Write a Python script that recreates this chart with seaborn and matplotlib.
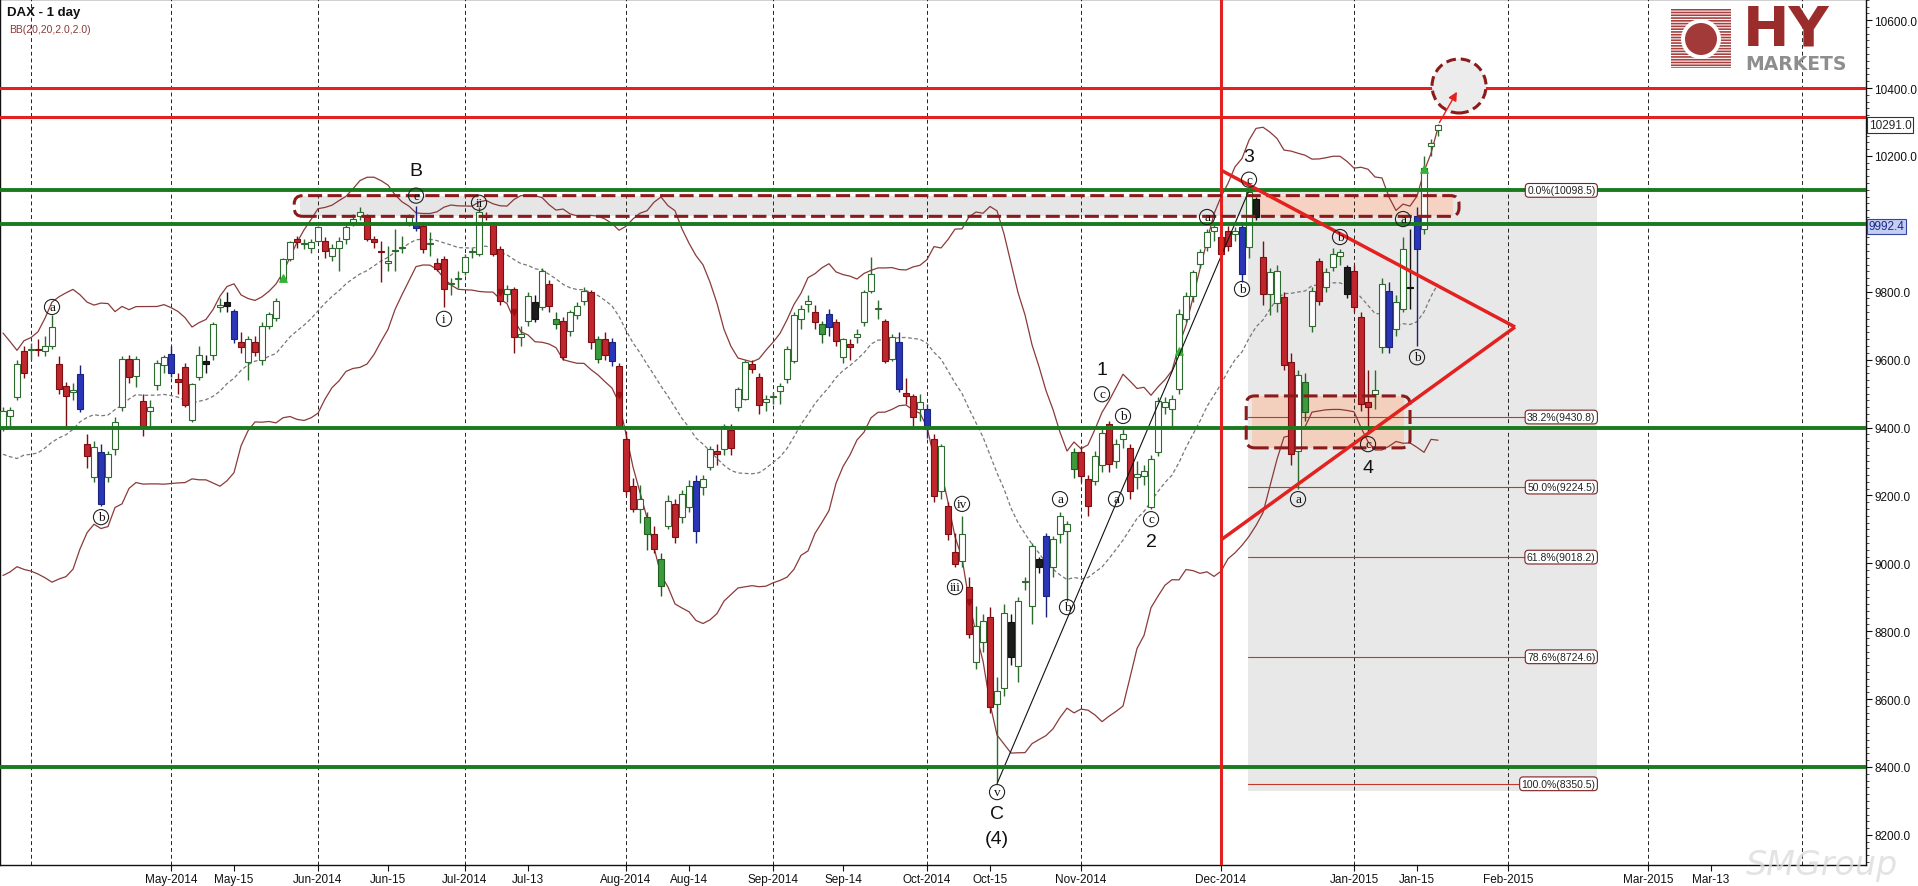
import numpy as np
import pandas as pd
import matplotlib
matplotlib.use("Agg")
import matplotlib.pyplot as plt
import matplotlib.transforms as mtransforms
from matplotlib.patches import Rectangle, FancyBboxPatch, Ellipse
from matplotlib.ticker import MultipleLocator, FuncFormatter
import seaborn as sns

sns.set_style("white")
plt.rcParams['font.family'] = ['Liberation Sans', 'DejaVu Sans']
plt.rcParams['hatch.linewidth'] = 1.2

# ---------------------------------------------------------------- data
first_day = "2014-03-26"
last_day = "2015-01-20"
exchange_holidays = ["2014-04-18", "2014-04-21", "2014-05-01", "2014-10-03",
                     "2014-12-24", "2014-12-25", "2014-12-26", "2014-12-31", "2015-01-01"]

# closes before the first visible bar (feed the 20-day Bollinger band)
prior_closes = [9600, 9692, 9358, 9589, 9542, 9350, 9350, 9265, 9307, 9188,
                9017, 9056, 9180, 9242, 9277, 9093, 9342, 9189, 9338]

opens = [
    9400, 9435, 9490, 9625,
    9628, 9630, 9625, 9641, 9587, 9523, 9505, 9558, 9351, 9254, 9328, 9254, 9337, 9460, 9602, 9552, 9479, 9450, 9525, 9584,
    9617, 9543, 9578, 9421, 9548, 9597, 9613, 9755, 9769, 9744, 9651, 9592, 9651, 9600, 9700, 9724, 9837, 9896, 9955, 9940, 9930,
    9950, 9950, 9906, 9930, 9955, 10004, 10024, 10019, 9955, 9921, 9886, 9921, 9930, 10004, 9999, 9994, 9940, 9886, 9896, 9823, 9837,
    9857, 9916, 9911, 10024, 9999, 9926, 9793, 9808, 9668, 9715, 9769, 9754, 9823, 9705, 9715, 9685, 9730, 9774, 9798, 9602, 9660, 9651, 9582,
    9366, 9227, 9160, 9086, 9086, 8934, 9111, 9175, 9135, 9165, 9243, 9224, 9283, 9331, 9337, 9394, 9460, 9484, 9588, 9548, 9474,
    9489, 9508, 9543, 9597, 9720, 9764, 9739, 9676, 9734, 9710, 9607, 9646, 9666, 9710, 9803, 9749, 9715, 9602, 9651, 9503, 9494, 9454,
    9454, 9366, 9214, 9170, 9032, 9008, 8929, 8708, 8767, 8841, 8585, 8634, 8826, 8698, 8944, 8875, 9012, 9081, 8988, 9086, 9096, 9278,
    9327, 9248, 9243, 9290, 9410, 9300, 9366, 9341, 9253, 9258, 9165, 9327, 9459, 9454, 9513, 9720, 9788, 9882, 9931, 9980,
    9961, 9980, 9970, 9990, 9931, 10073, 9901, 9793, 9768, 9784, 9593, 9330, 9446, 9700, 9891, 9813, 9872, 9906, 9872,
    9862, 9725, 9475, 9499, 9637, 9803, 9690, 9749, 9815, 9926, 9985, 10228, 10277]

highs = [
    9460, 9460, 9600, 9640,
    9650, 9660, 9670, 9730, 9610, 9535, 9530, 9585, 9380, 9360, 9351, 9330, 9430, 9610, 9615, 9610, 9500, 9480, 9600, 9615,
    9640, 9560, 9590, 9530, 9640, 9615, 9710, 9780, 9800, 9750, 9680, 9670, 9670, 9710, 9740, 9780, 9900, 9950, 9965, 9955, 9955,
    9995, 9960, 9940, 9960, 10000, 10030, 10050, 10030, 9965, 9950, 9935, 9985, 9965, 10030, 10053, 10000, 9975, 9900, 9905, 9840, 9860,
    9910, 9930, 10050, 10035, 10005, 9935, 9820, 9815, 9700, 9800, 9790, 9870, 9835, 9740, 9725, 9745, 9770, 9815, 9805, 9670, 9680, 9665, 9590,
    9390, 9250, 9230, 9150, 9110, 9030, 9200, 9190, 9215, 9245, 9260, 9260, 9345, 9350, 9410, 9410, 9520, 9600, 9600, 9560, 9495,
    9505, 9530, 9640, 9740, 9760, 9790, 9760, 9715, 9750, 9720, 9665, 9660, 9690, 9805, 9901, 9775, 9720, 9675, 9680, 9545, 9500, 9500,
    9470, 9380, 9350, 9180, 9090, 9140, 8960, 8875, 8850, 8870, 8664, 8880, 8850, 8900, 8960, 9060, 9020, 9090, 9080, 9150, 9125, 9340,
    9345, 9260, 9330, 9400, 9420, 9365, 9395, 9350, 9300, 9290, 9320, 9490, 9490, 9495, 9750, 9800, 9865, 9925, 9985, 10000,
    9990, 9995, 9990, 10005, 10098, 10080, 9950, 9870, 9880, 9800, 9620, 9570, 9560, 9815, 9900, 9870, 9930, 9925, 9880,
    9880, 9740, 9570, 9570, 9840, 9830, 9790, 9960, 9985, 10050, 10200, 10250, 10295]

lows = [
    9390, 9400, 9480, 9545,
    9600, 9610, 9610, 9630, 9500, 9400, 9480, 9445, 9280, 9240, 9170, 9240, 9320, 9450, 9530, 9520, 9375, 9400, 9510, 9560,
    9550, 9500, 9460, 9415, 9540, 9560, 9600, 9740, 9740, 9650, 9620, 9540, 9610, 9585, 9690, 9715, 9830, 9890, 9930, 9925, 9915,
    9945, 9900, 9890, 9860, 9940, 9995, 10010, 9950, 9930, 9830, 9860, 9860, 9915, 9995, 9980, 9915, 9905, 9860, 9754, 9790, 9810,
    9850, 9900, 9905, 10010, 9905, 9760, 9770, 9620, 9640, 9700, 9710, 9745, 9740, 9690, 9600, 9670, 9720, 9760, 9630, 9590, 9600, 9580, 9395,
    9200, 9150, 9120, 9040, 9030, 8903, 9100, 9060, 9120, 9150, 9060, 9200, 9275, 9290, 9320, 9320, 9450, 9480, 9560, 9440, 9450,
    9470, 9470, 9530, 9590, 9690, 9740, 9690, 9650, 9670, 9640, 9590, 9600, 9650, 9700, 9795, 9720, 9590, 9595, 9505, 9470, 9400, 9420,
    9370, 9180, 9190, 9070, 8990, 8990, 8780, 8690, 8740, 8560, 8355, 8610, 8700, 8649, 8920, 8821, 8970, 8841, 8960, 9060, 8890, 9250,
    9240, 9140, 9230, 9270, 9270, 9280, 9340, 9190, 9220, 9230, 9160, 9315, 9440, 9396, 9500, 9710, 9770, 9870, 9920, 9950,
    9900, 9920, 9950, 9828, 9900, 10010, 9760, 9730, 9740, 9570, 9290, 9219, 9420, 9680, 9760, 9800, 9860, 9880, 9780,
    9740, 9450, 9380, 9455, 9620, 9620, 9670, 9740, 9750, 9640, 9970, 10200, 10260]

closes = [
    9450, 9452, 9588, 9562,
    9631, 9628, 9640, 9695, 9513, 9493, 9509, 9455, 9316, 9343, 9175, 9322, 9416, 9602, 9548, 9602, 9405, 9460, 9589, 9608,
    9562, 9533, 9467, 9529, 9613, 9587, 9705, 9760, 9759, 9661, 9636, 9661, 9621, 9700, 9734, 9773, 9896, 9945, 9945, 9940, 9945,
    9990, 9921, 9930, 9950, 9990, 10014, 10034, 9955, 9945, 9916, 9886, 9921, 9930, 10019, 9989, 9926, 9940, 9867, 9808, 9823, 9837,
    9901, 9916, 10034, 10020, 9911, 9774, 9808, 9666, 9675, 9788, 9720, 9862, 9759, 9720, 9607, 9739, 9759, 9803, 9651, 9661, 9615, 9597, 9405,
    9213, 9159, 9190, 9135, 9042, 9012, 9184, 9076, 9204, 9229, 9096, 9248, 9336, 9322, 9404, 9340, 9513, 9593, 9573, 9465, 9484,
    9489, 9523, 9631, 9730, 9749, 9774, 9710, 9705, 9695, 9656, 9661, 9636, 9676, 9798, 9852, 9749, 9597, 9666, 9513, 9494, 9430, 9474,
    9395, 9199, 9346, 9086, 8998, 9086, 8792, 8816, 8831, 8576, 8625, 8855, 8723, 8890, 8944, 9052, 8988, 8905, 9071, 9140, 9116, 9327,
    9258, 9170, 9317, 9385, 9292, 9351, 9380, 9214, 9263, 9273, 9307, 9479, 9474, 9484, 9734, 9788, 9857, 9916, 9975, 9990,
    9911, 9935, 9980, 9852, 10093, 10019, 9793, 9857, 9862, 9583, 9323, 9554, 9534, 9803, 9774, 9857, 9911, 9916, 9793,
    9754, 9470, 9460, 9509, 9823, 9637, 9769, 9926, 9810, 10024, 10164, 10238, 10291]

blue_days = ["2014-04-10", "2014-04-15", "2014-05-02", "2014-05-15", "2014-06-20", "2014-07-30",
             "2014-08-15", "2014-09-11", "2014-09-25", "2014-10-01", "2014-10-27", "2014-12-04",
             "2015-01-09", "2015-01-15"]
green_days = ["2014-07-18", "2014-07-28", "2014-08-06", "2014-08-08", "2014-09-10", "2014-10-31", "2014-12-17"]
black_days = ["2014-05-09", "2014-05-14", "2014-07-15", "2014-10-20", "2014-10-24", "2014-12-08",
              "2014-12-30", "2015-01-14"]

up_signal_days = ["2014-05-26", "2014-11-21", "2015-01-16"]
up_signal_prices = [9840, 9625, 10160]
down_signal_days = ["2014-07-08", "2014-07-10", "2014-07-31", "2014-10-10"]
down_signal_prices = [9800, 9740, 9495, 8885]

support_levels = [10100, 10000, 9400, 8400]      # green
resistance_levels = [10400, 10315]               # red
vertical_marker_day = "2014-12-01"

fib_names = ["0.0%", "38.2%", "50.0%", "61.8%", "78.6%", "100.0%"]
fib_levels = [10098.5, 9430.8, 9224.5, 9018.2, 8724.6, 8350.5]
fib_anchor_days = ["2014-10-16", "2014-12-05"]
fib_box_end_day = "2015-02-18"

triangle_start_day = "2014-12-01"
triangle_apex_day = "2015-02-03"
triangle_upper_start, triangle_lower_start, triangle_apex_price = 10158, 9069, 9696

upper_zone_days = ["2014-05-27", "2015-01-22"]
upper_zone_prices = [10022, 10083]
lower_zone_days = ["2014-12-04", "2015-01-14"]
lower_zone_prices = [9340, 9493]
target_day, target_price = "2015-01-22", 10406

circled_labels = [("a", "2014-04-04", 9755), ("b", "2014-04-15", 9136), ("e", "2014-06-20", 10083),
                  ("i", "2014-06-26", 9720), ("ii", "2014-07-03", 10062), ("iii", "2014-10-08", 8930),
                  ("iv", "2014-10-09", 9175), ("v", "2014-10-16", 8326), ("a", "2014-10-29", 9189),
                  ("b", "2014-10-30", 8871), ("c", "2014-11-06", 9498), ("a", "2014-11-10", 9189),
                  ("b", "2014-11-11", 9434), ("c", "2014-11-17", 9130), ("a", "2014-11-27", 10020),
                  ("b", "2014-12-04", 9808), ("c", "2014-12-05", 10130), ("a", "2014-12-16", 9189),
                  ("b", "2014-12-29", 9961), ("c", "2015-01-06", 9351), ("a", "2015-01-13", 10014),
                  ("b", "2015-01-15", 9607)]
wave_labels = [("B", "2014-06-20", 10156), ("1", "2014-11-06", 9572), ("2", "2014-11-17", 9063),
               ("3", "2014-12-05", 10197), ("4", "2015-01-06", 9283), ("C", "2014-10-16", 8262),
               ("(4)", "2014-10-16", 8188)]

month_grid_days = ["2014-04-01", "2014-05-01", "2014-06-01", "2014-07-01", "2014-08-01", "2014-09-01",
                   "2014-10-01", "2014-11-01", "2014-12-01", "2015-01-01", "2015-02-01", "2015-03-01",
                   "2015-04-01"]
tick_days = ["2014-05-01", "2014-05-15", "2014-06-01", "2014-06-15", "2014-07-01", "2014-07-13",
             "2014-08-01", "2014-08-14", "2014-09-01", "2014-09-14", "2014-10-01", "2014-10-15",
             "2014-11-01", "2014-12-01", "2015-01-01", "2015-01-15", "2015-02-01", "2015-03-01", "2015-03-13"]
tick_labels = ["May-2014", "May-15", "Jun-2014", "Jun-15", "Jul-2014", "Jul-13", "Aug-2014", "Aug-14",
               "Sep-2014", "Sep-14", "Oct-2014", "Oct-15", "Nov-2014", "Dec-2014", "Jan-2015", "Jan-15",
               "Feb-2015", "Mar-2015", "Mar-13"]
last_price = 10291.0
marked_price = 9992.4

# ---------------------------------------------------------------- calendar
dates = pd.bdate_range(first_day, last_day)
dates = dates[~dates.isin(pd.to_datetime(exchange_holidays))]
n = len(dates)


def pos(day):
    d = pd.Timestamp(day)
    if d <= dates[-1]:
        return int(dates.searchsorted(d))
    return n + int(np.busday_count(dates[-1].date(), d.date()))


o = np.array(opens, float)
h = np.array(highs, float)
l = np.array(lows, float)
c = np.array(closes, float)
x = np.arange(n)

allc = pd.Series(prior_closes + closes, dtype=float)
mid = allc.rolling(20).mean().to_numpy()[len(prior_closes):]
sd = allc.rolling(20).std(ddof=0).to_numpy()[len(prior_closes):]
upper, lower = mid + 2 * sd, mid - 2 * sd

# ---------------------------------------------------------------- figure
W, H = 1918, 887
fig = plt.figure(figsize=(W / 100, H / 100), dpi=100)
ax = fig.add_axes([0, 21 / H, 1866 / W, 866 / H])
ax.set_xlim(-0.43, 266.14)
ax.set_ylim(8111.3, 10662.2)

RED = "#e3211e"
GREEN = "#1b7a1f"
DKRED = "#8b1a1a"

# fib shaded box
x_f0 = pos(fib_anchor_days[1]) - 0.1
x_f1 = pos(fib_box_end_day) + 0.7
ax.add_patch(Rectangle((x_f0, 8330), x_f1 - x_f0, fib_levels[0] - 8330, fc="#e8e8e8", ec="none", zorder=0.5))


# zones
def zone(days, prices, fill_segments):
    x0, x1 = pos(days[0]) + 0.6, pos(days[1])
    y0, y1 = prices
    rx = 1.2
    asp = (8 / 0.3395) / (8 / 7.0)
    for (a, b, col) in fill_segments:
        ax.add_patch(Rectangle((max(a, x0 + 0.8), y0), min(b, x1 - 0.8) - max(a, x0 + 0.8), y1 - y0,
                               fc=col, ec="none", zorder=0.8))
    ax.add_patch(FancyBboxPatch((x0, y0), x1 - x0, y1 - y0,
                                boxstyle=f"round,pad=0,rounding_size={rx}", mutation_aspect=asp,
                                fc="none", ec=DKRED, lw=2.2, ls=(0, (4.6, 1.8)), zorder=4.2))


xu0, xu1 = pos(upper_zone_days[0]), pos(upper_zone_days[1])
zone(upper_zone_days, upper_zone_prices, [(xu0, x_f0, "#e6e6e6"), (x_f0, xu1, "#f5d2c2")])
xl0, xl1 = pos(lower_zone_days[0]), pos(lower_zone_days[1])
zone(lower_zone_days, lower_zone_prices, [(xl0, xl1, "#f3cfbd")])

# month grid lines
for d in month_grid_days:
    ax.axvline(pos(d), color="#222222", lw=0.7, ls=(0, (4, 3)), zorder=1)

# fib lines + labels
for name, lev in zip(fib_names, fib_levels):
    ax.plot([x_f0, x_f1 - 2], [lev, lev], color="#c0392b", lw=0.8, zorder=1.2)
    ax.text(x_f1 - 0.2, lev, f"{name}({lev:.1f})", ha="right", va="center", fontsize=7.5, color="#222",
            bbox=dict(boxstyle="round,pad=0.18,rounding_size=0.35", fc="white", ec="#7a2020", lw=0.8), zorder=5)

# Bollinger bands (seaborn)
sns.lineplot(x=x, y=upper, ax=ax, color="#8a3a3a", lw=0.9, zorder=2, legend=False)
sns.lineplot(x=x, y=lower, ax=ax, color="#8a3a3a", lw=0.9, zorder=2, legend=False)
sns.lineplot(x=x, y=mid, ax=ax, color="#777777", lw=0.9, zorder=2, legend=False)
ax.lines[-1].set_linestyle((0, (3, 2)))

# candles
blue_i = {pos(d) for d in blue_days}
green_i = {pos(d) for d in green_days}
black_i = {pos(d) for d in black_days}
faces, edges = [], []
for i in range(n):
    if i in blue_i:
        f, e = "#2a36b8", "#1a237e"
    elif i in green_i:
        f, e = "#3d9a3d", "#1f5f1f"
    elif i in black_i:
        f, e = "#1c1c1c", "#111111"
    elif c[i] >= o[i]:
        f, e = "white", "#2d6a2d"
    else:
        f, e = "#c0262d", "#7d0f12"
    faces.append(f)
    edges.append(e)
ax.vlines(x, l, h, colors=edges, lw=1.0, zorder=2.9)
body_lo = np.minimum(o, c)
body_h = np.maximum(np.abs(c - o), 3)
ax.bar(x, body_h, bottom=body_lo, width=0.72, color=faces, edgecolor=edges, linewidth=0.8, zorder=3)

# signal markers
ax.scatter([pos(d) for d in up_signal_days], up_signal_prices, marker="^", s=28, color="#33b233", zorder=3.5)
ax.scatter([pos(d) for d in down_signal_days], down_signal_prices, marker="v", s=18, color="#9a1010", zorder=3.5)

# horizontal levels
for lev in support_levels:
    ax.axhline(lev, color=GREEN, lw=2.8, zorder=4)
for lev in resistance_levels:
    ax.axhline(lev, color=RED, lw=2.2, zorder=4)
ax.axvline(pos(vertical_marker_day), color=RED, lw=2.2, zorder=4)

# triangle
xs, xa = pos(triangle_start_day), pos(triangle_apex_day)
ax.plot([xs, xa], [triangle_upper_start, triangle_apex_price], color=RED, lw=2.5, zorder=4.5, solid_capstyle="butt")
ax.plot([xs, xa], [triangle_lower_start, triangle_apex_price], color=RED, lw=2.5, zorder=4.5, solid_capstyle="butt")

# fib anchor line
ax.plot([pos(fib_anchor_days[0]), pos(fib_anchor_days[1])], [fib_levels[-1], fib_levels[0]],
        color="#111111", lw=0.8, zorder=3.6)

# target circle + arrow
ax.add_patch(Ellipse((pos(target_day), target_price), 2 * 27 / 7, 2 * 27 / 0.3395, fc="#ececec",
                     ec=DKRED, lw=2.2, ls=(0, (3.2, 1.6)), zorder=4.6))
ax.annotate("", xy=(pos(target_day) - 0.1, target_price - 10), xytext=(n - 1, last_price),
            arrowprops=dict(arrowstyle="-|>", color=RED, lw=1.0, mutation_scale=13), zorder=5)

# wave labels
for t, d, p in circled_labels:
    ax.text(pos(d), p, t, ha="center", va="center", fontsize=9.5, family=["Liberation Serif", "DejaVu Serif"],
            color="#111", bbox=dict(boxstyle="circle,pad=0.12", fc="none", ec="#222", lw=0.8), zorder=6)
for t, d, p in wave_labels:
    ax.text(pos(d), p, t, ha="center", va="center", fontsize=14, color="#111", zorder=6)

# axes cosmetics
covered = [marked_price]
ax.yaxis.tick_right()
ax.yaxis.set_major_locator(MultipleLocator(200))
ax.yaxis.set_minor_locator(MultipleLocator(20))
ax.yaxis.set_major_formatter(FuncFormatter(
    lambda v, _: "" if any(abs(v - p) < 30 for p in covered) else f"{v:.1f}"))
ax.set_xticks([pos(d) for d in tick_days])
ax.set_xticklabels(tick_labels)
ax.tick_params(axis="x", which="major", bottom=True, length=4, width=0.8, pad=2, labelsize=8.5, colors="#111")
ax.tick_params(axis="y", which="major", right=True, left=False, length=4, width=0.8, pad=2, labelsize=8.5, colors="#111")
ax.tick_params(axis="y", which="minor", right=True, left=False, length=2, width=0.6)
for s in ax.spines.values():
    s.set_visible(True)
    s.set_color("#111")
    s.set_linewidth(1.0)
ax.set_xlabel("")
ax.set_ylabel("")

# price tags on the axis
tr = mtransforms.blended_transform_factory(ax.transAxes, ax.transData)
ax.text(1.0015, last_price, f"{last_price:.1f}", transform=tr, ha="left", va="center", fontsize=8.5,
        bbox=dict(boxstyle="square,pad=0.15", fc="white", ec="#333", lw=0.8), zorder=7, clip_on=False)
ax.text(1.0015, marked_price, f"{marked_price:.1f}", transform=tr, ha="left", va="center", fontsize=8.5,
        color="#1a2a8a", bbox=dict(boxstyle="square,pad=0.15", fc="#c5cdf2", ec="#3048a0", lw=0.8),
        zorder=7, clip_on=False)

# titles
fig.text(7 / W, 1 - 13 / H, "DAX - 1 day", fontsize=9.5, fontweight="bold", va="center", ha="left", color="#111")
fig.text(9 / W, 1 - 30 / H, "BB(20,20,2.0,2.0)", fontsize=7.5, va="center", ha="left", color="#8a3a3a")

# logo
fig.add_artist(Rectangle((1671 / W, 1 - 69 / H), 60 / W, 59 / H, transform=fig.transFigure,
                         fc="white", ec="#a84040", lw=0, hatch="------", zorder=5))
fig.add_artist(Ellipse((1701 / W, 1 - 40 / H), 40 / W, 40 / H, transform=fig.transFigure,
                       fc="white", ec="none", zorder=5.1))
fig.add_artist(Ellipse((1701 / W, 1 - 40 / H), 32 / W, 32 / H, transform=fig.transFigure,
                       fc="#a33a3a", ec="none", zorder=5.2))
fig.text(1743 / W, 1 - 46 / H, "HY", fontsize=40, fontweight="bold", color="#9b2c2c",
         family="DejaVu Sans", va="baseline", ha="left", zorder=6)
fig.text(1745 / W, 1 - 70 / H, "MARKETS", fontsize=13.5, fontweight="bold", color="#8e8e8e",
         family="DejaVu Sans", va="baseline", ha="left", zorder=6)

# watermark
fig.text(1822 / W, 1 - 866 / H, "SMGroup", fontsize=24, style="italic", color="#dcdcdc",
         family="DejaVu Sans", va="center", ha="center", alpha=0.8, zorder=0)

fig.savefig("out.png", dpi=100)
